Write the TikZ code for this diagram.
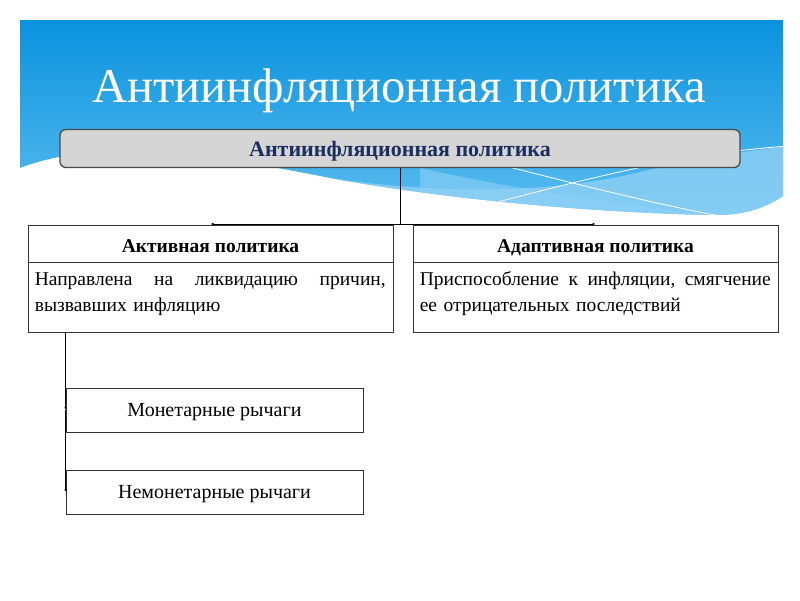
\documentclass[tikz,border=0pt]{standalone}
\usepackage{fontspec}
\setmainfont{Liberation Serif}
\usetikzlibrary{arrows.meta}
\definecolor{hdrTop}{HTML}{0A92DE}
\definecolor{hdrBot}{HTML}{5ABDEF}
\definecolor{hdrLight}{HTML}{8ED0F5}
\definecolor{boxGray}{HTML}{D5D5D5}
\definecolor{boxEdge}{HTML}{4A4A4A}
\definecolor{navy}{HTML}{1C2E5E}
\definecolor{lineGray}{HTML}{333333}
\tikzset{
  mainbox/.style={draw=boxEdge, line width=1.3pt, fill=boxGray, rounded corners=6pt,
    minimum width=680, minimum height=38, inner sep=0pt,
    text height=15pt, text depth=0pt,
    font=\fontsize{22}{24}\selectfont\bfseries, text=navy},
  headbox/.style={draw=lineGray, line width=0.8pt, fill=white, minimum height=37, inner sep=0pt,
    text height=17pt, text depth=0pt, font=\fontsize{19.5}{22}\selectfont\bfseries},
  bodybox/.style={draw=lineGray, line width=0.8pt, fill=white, minimum height=70, inner sep=0pt},
  bodytext/.style={inner sep=0pt, text width=351, align=left, font=\fontsize{19.5}{23}\selectfont},
  leverbox/.style={draw=lineGray, line width=0.8pt, fill=white, minimum width=297, minimum height=44,
    inner sep=0pt, text height=13pt, text depth=0pt, font=\fontsize{20}{22}\selectfont},
  conn/.style={draw=black, line width=0.8pt},
  arr/.style={conn, -{Latex[length=3pt,width=2.6pt]}},
}
\begin{document}
\begin{tikzpicture}[x=1pt,y=-1pt]
\useasboundingbox (0,0) rectangle (800,600);
% header background
\def\hdrpath{(20,20) -- (783,20) -- (783,196) .. controls (765,208) and (745,215) .. (715,215) .. controls (600,213) and (450,200) .. (330,178) .. controls (230,158) and (150,146) .. (100,151) .. controls (60,155) and (35,162) .. (20,168) -- cycle}
\shade[top color=hdrTop, bottom color=hdrBot] \hdrpath;
\begin{scope}
  \clip \hdrpath;
  \fill[hdrLight, opacity=0.8] (330,178) .. controls (450,196) and (560,192) .. (640,172) .. controls (700,158) and (750,150) .. (790,146) -- (790,230) -- (330,230) -- cycle;
  \fill[hdrLight, opacity=0.6] (420,168) .. controls (520,190) and (620,205) .. (720,216) -- (420,230) -- cycle;
  \draw[white, line width=0.8pt] (505,166) .. controls (580,185) and (660,205) .. (720,216);
  \draw[white, line width=0.8pt] (490,204) .. controls (590,178) and (690,152) .. (790,146);
\end{scope}
% title
\node[anchor=base, text=white, font=\fontsize{48.6}{56}\selectfont, inner sep=0pt] (title) at (399,102) {Антиинфляционная политика};
% main box
\node[mainbox] (main) at (400,148.5) {Антиинфляционная политика};
% policy boxes
\node[headbox, minimum width=365] (acth) at (210.5,243.5) {Активная политика};
\node[bodybox, minimum width=365, anchor=north] (actb) at (acth.south) {};
\node[bodytext, anchor=north west] (actt) at ([xshift=7pt, yshift=-8pt]actb.north west)
  {\rule{0pt}{15pt}Направлена\hfill на\hfill ликвидацию\hfill причин,\\[3pt]вызвавших инфляцию};
\node[headbox, minimum width=365] (adph) at (595.5,243.5) {Адаптивная политика};
\node[bodybox, minimum width=365, anchor=north] (adpb) at (adph.south) {};
\node[bodytext, anchor=north west] (adpt) at ([xshift=7pt, yshift=-8pt]adpb.north west)
  {\rule{0pt}{15pt}Приспособление\hfill к\hfill инфляции,\hfill смягчение\\[3pt]ее отрицательных последствий};
% levers
\node[leverbox] (mon) at (214.5,410) {Монетарные рычаги};
\node[leverbox] (nmon) at (214.5,492) {Немонетарные рычаги};
% connectors
\coordinate (split) at (400,224);
\draw[conn] (main.south) -- (split);
\draw[arr] (split) -- (split -| acth.north);
\draw[arr] (split) -- (split -| adph.north);
\draw[arr] (actb.south -| mon.west) -- (mon.west);
\draw[arr] (mon.west) -- (nmon.west);
\end{tikzpicture}
\end{document}
